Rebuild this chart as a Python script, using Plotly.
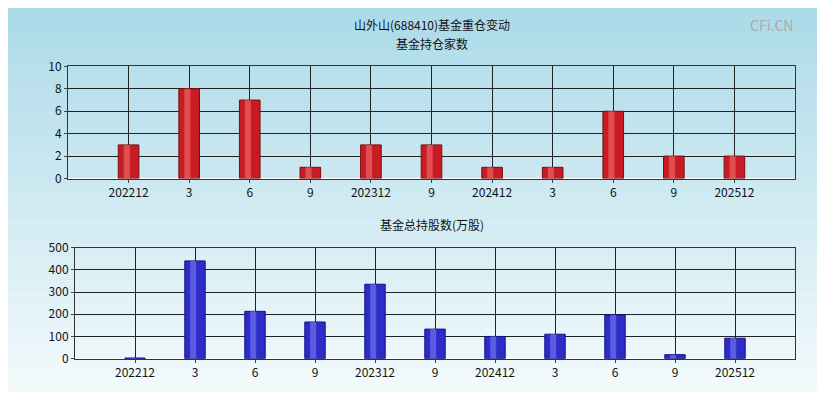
import plotly.graph_objects as go
from plotly.subplots import make_subplots

tick_labels = ["202212", "3", "6", "9", "202312", "9", "202412", "3", "6", "9", "202512"]
fund_count = [3, 8, 7, 1, 3, 3, 1, 1, 6, 2, 2]
fund_shares = [3, 440, 213, 165, 335, 133, 100, 110, 197, 18, 92]

# page body has an 8px margin, so the figure is sized to fit inside it
OFF = 8
W, H = 825 - 2 * OFF, 400 - 2 * OFF


def py(y, lo=0.0):
    # vertical correction measured from test renders
    fy = max((y - 17.6) / 0.955, lo)
    return 1 - fy / H


fig = make_subplots(rows=2, cols=1)
xs = list(range(len(tick_labels)))

fig.add_trace(go.Bar(x=xs, y=fund_count, width=0.34,
                     marker=dict(color="#c81c24", line=dict(color="#7a0c10", width=1))), 1, 1)
fig.add_trace(go.Bar(x=xs, y=fund_count, width=0.1, offset=-0.08,
                     marker=dict(color="rgba(255,140,140,0.45)", line=dict(width=0))), 1, 1)
fig.add_trace(go.Bar(x=xs, y=fund_shares, width=0.34,
                     marker=dict(color="#2c2cc8", line=dict(color="#10108a", width=1))), 2, 1)
fig.add_trace(go.Bar(x=xs, y=fund_shares, width=0.1, offset=-0.08,
                     marker=dict(color="rgba(150,150,255,0.45)", line=dict(width=0))), 2, 1)

ax = dict(showline=True, linecolor="#333", mirror=True, gridcolor="#222", gridwidth=1,
          tickfont=dict(size=12, color="#111"), ticks="outside", ticklen=3)
fig.update_xaxes(**ax, range=[-1, 11], tickvals=xs, ticktext=tick_labels)
fig.update_yaxes(**ax)
fig.update_layout(
    barmode="overlay",
    xaxis2=dict(domain=[7 / 727, 1]),
    yaxis=dict(domain=[py(178), py(66)], range=[0, 10], dtick=2),
    yaxis2=dict(domain=[py(358), py(247)], range=[0, 500], dtick=100),
)

# gradient background
n = 40
shapes = []
for i in range(n):
    t = i / (n - 1)
    r = int(168 + (255 - 168) * t)
    g = int(216 + (255 - 216) * t)
    b = int(232 + (255 - 232) * t)
    shapes.append(dict(type="rect", xref="paper", yref="paper", layer="below",
                       x0=-0.2, x1=1.2, y0=1.1 - (i + 1) * 1.3 / n, y1=1.1 - i * 1.3 / n,
                       fillcolor=f"rgb({r},{g},{b})", line=dict(width=0)))


def ann(text, y, **kw):
    d = dict(text=text, x=0.5, y=py(y, 7), xref="paper", yref="paper", yanchor="middle",
             showarrow=False, font=dict(size=12))
    d.update(kw)
    return d


fig.update_layout(
    width=W, height=H, showlegend=False, shapes=shapes,
    margin=dict(l=68 - OFF, r=30 - OFF, t=0, b=0),
    paper_bgcolor="#c8e6f0", plot_bgcolor="rgba(0,0,0,0)",
    font=dict(family="Noto Sans CJK SC", size=12, color="#111"),
    annotations=[
        ann("山外山(688410)基金重仓变动", 18),
        ann("基金持仓家数", 43),
        ann("基金总持股数(万股)", 224),
        ann("CFi.CN", 10, x=1, xanchor="right", font=dict(size=14, color="#aaa")),
    ],
)
fig.write_html("out.html")
